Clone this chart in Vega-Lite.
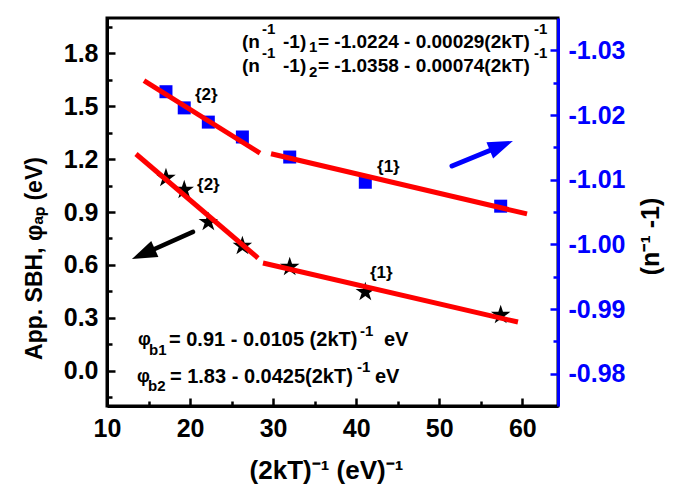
{
  "$schema": "https://vega.github.io/schema/vega-lite/v6.json",
  "width": 451,
  "height": 388,
  "autosize": {"type": "none"},
  "padding": {"left": 107, "top": 18, "right": 127, "bottom": 80},
  "background": "white",
  "config": {
    "view": {"stroke": "black", "strokeWidth": 3},
    "axis": {"grid": false}
  },
  "datasets": {
    "stars": [
      {"x": 17.1, "y": 1.093}, {"x": 19.3, "y": 1.025}, {"x": 22.2, "y": 0.843},
      {"x": 26.3, "y": 0.707}, {"x": 32.0, "y": 0.588}, {"x": 41.1, "y": 0.446},
      {"x": 57.4, "y": 0.316}
    ],
    "squares": [
      {"x": 17.1, "v": -1.0236}, {"x": 19.3, "v": -1.0211}, {"x": 22.2, "v": -1.0189},
      {"x": 26.3, "v": -1.0166}, {"x": 32.0, "v": -1.0135}, {"x": 41.1, "v": -1.0096},
      {"x": 57.4, "v": -1.0059}
    ],
    "starfits": [
      {"seg": "b2", "x": 13.49, "y": 1.229}, {"seg": "b2", "x": 28.18, "y": 0.639},
      {"seg": "b1", "x": 28.78, "y": 0.611}, {"seg": "b1", "x": 59.48, "y": 0.276}
    ],
    "sqfits": [
      {"seg": "n2", "x": 14.45, "v": -1.0253}, {"seg": "n2", "x": 28.42, "v": -1.0141},
      {"seg": "n1", "x": 29.75, "v": -1.0140}, {"seg": "n1", "x": 60.57, "v": -1.0047}
    ],
    "arrows": [
      {"id": "black", "x": 20.35, "y": 0.787, "x2": 14.38, "y2": 0.662},
      {"id": "blue", "x": 51.54, "y": 1.161, "x2": 57.48, "y2": 1.276}
    ],
    "texts": [
      {"role": "main", "x": 26.25, "y": 1.864, "t": "(n"},
      {"role": "sup", "x": 28.66, "y": 1.938, "t": "-1"},
      {"role": "main", "x": 31.19, "y": 1.864, "t": "-1)"},
      {"role": "sub", "x": 34.32, "y": 1.836, "t": "1"},
      {"role": "main", "x": 35.40, "y": 1.864, "t": "= -1.0224 - 0.00029(2kT)"},
      {"role": "sup", "x": 61.41, "y": 1.938, "t": "-1"},
      {"role": "main", "x": 26.25, "y": 1.728, "t": "(n"},
      {"role": "sup", "x": 28.66, "y": 1.802, "t": "-1"},
      {"role": "main", "x": 31.19, "y": 1.728, "t": "-1)"},
      {"role": "sub", "x": 34.32, "y": 1.694, "t": "2"},
      {"role": "main", "x": 35.40, "y": 1.728, "t": "= -1.0358 - 0.00074(2kT)"},
      {"role": "sup", "x": 61.41, "y": 1.802, "t": "-1"},
      {"role": "phi", "x": 13.73, "y": 0.174, "t": "φ"},
      {"role": "sub", "x": 15.06, "y": 0.118, "t": "b1"},
      {"role": "bmain", "x": 17.46, "y": 0.174, "t": "= 0.91 - 0.0105 (2kT)"},
      {"role": "sup", "x": 40.46, "y": 0.225, "t": "-1"},
      {"role": "bmain", "x": 43.35, "y": 0.174, "t": "eV"},
      {"role": "phi", "x": 13.61, "y": -0.036, "t": "φ"},
      {"role": "sub", "x": 14.94, "y": -0.087, "t": "b2"},
      {"role": "bmain", "x": 17.58, "y": -0.036, "t": "= 1.83 - 0.0425(2kT)"},
      {"role": "sup", "x": 40.10, "y": 0.021, "t": "-1"},
      {"role": "bmain", "x": 42.26, "y": -0.036, "t": "eV"},
      {"role": "tag", "x": 20.59, "y": 1.563, "t": "{2}"},
      {"role": "tag", "x": 42.51, "y": 1.155, "t": "{1}"},
      {"role": "tag", "x": 20.84, "y": 1.053, "t": "{2}"},
      {"role": "tag", "x": 41.66, "y": 0.554, "t": "{1}"}
    ]
  },
  "layer": [
    {
      "data": {"name": "stars"},
      "mark": {"type": "point", "shape": "M0,-1L0.2245,-0.309L0.951,-0.309L0.363,0.118L0.588,0.809L0,0.382L-0.588,0.809L-0.363,0.118L-0.951,-0.309L-0.2245,-0.309Z", "filled": true, "size": 420, "color": "black", "opacity": 1},
      "encoding": {
        "x": {
          "field": "x", "type": "quantitative",
          "scale": {"domain": [10, 64.3], "nice": false, "zero": false},
          "axis": {
            "orient": "bottom",
            "values": [10, 15, 20, 25, 30, 35, 40, 45, 50, 55, 60],
            "labelExpr": "datum.value % 10 === 0 ? datum.label : ''",
            "title": "(2kT)⁻¹ (eV)⁻¹",
            "grid": false,
            "tickSize": {"condition": {"test": "datum.value % 10 === 0", "value": -8}, "value": -5},
            "tickWidth": 2.5, "tickColor": "black",
            "domainColor": "black", "domainWidth": 3,
            "labelFont": "Liberation Sans", "labelFontSize": 25, "labelFontWeight": "bold", "labelColor": "black",
            "labelPadding": 18, "labelFlush": false, "labelOverlap": false,
            "titleFont": "Liberation Sans", "titleFontSize": 26, "titleFontWeight": "bold", "titleColor": "black",
            "titleX": 219, "titleY": 64, "titleBaseline": "middle", "titleAlign": "center"
          }
        },
        "y": {
          "field": "y", "type": "quantitative",
          "scale": {"domain": [-0.2, 2.0], "nice": false, "zero": false},
          "axis": {
            "orient": "left",
            "values": [-0.15, 0, 0.15, 0.3, 0.45, 0.6, 0.75, 0.9, 1.05, 1.2, 1.35, 1.5, 1.65, 1.8, 1.95],
            "labelExpr": "abs(round(datum.value * 100)) % 30 === 0 ? format(datum.value, '.1f') : ''",
            "title": "App. SBH, φₐₚ (eV)",
            "grid": false,
            "tickSize": {"condition": {"test": "abs(round(datum.value * 100)) % 30 === 0", "value": -8}, "value": -5},
            "tickWidth": 2.5, "tickColor": "black",
            "domainColor": "black", "domainWidth": 3,
            "labelFont": "Liberation Sans", "labelFontSize": 25, "labelFontWeight": "bold", "labelColor": "black",
            "labelPadding": 17, "labelFlush": false, "labelOverlap": false,
            "titleFont": "Liberation Sans", "titleFontSize": 23, "titleFontWeight": "bold", "titleColor": "black",
            "titleX": -73, "titleY": 240, "titleAngle": 270, "titleBaseline": "middle", "titleAlign": "center"
          }
        }
      }
    },
    {
      "data": {"name": "starfits"},
      "mark": {"type": "line", "color": "#FF0000", "strokeWidth": 5, "strokeCap": "butt"},
      "encoding": {
        "x": {"field": "x", "type": "quantitative", "scale": {"domain": [10, 64.3], "nice": false, "zero": false}},
        "y": {"field": "y", "type": "quantitative", "scale": {"domain": [-0.2, 2.0], "nice": false, "zero": false}, "axis": null},
        "detail": {"field": "seg"}
      }
    },
    {
      "data": {"name": "arrows"},
      "transform": [{"filter": "datum.id === 'black'"}],
      "mark": {"type": "rule", "color": "black", "strokeWidth": 4.5, "strokeCap": "round"},
      "encoding": {
        "x": {"field": "x", "type": "quantitative", "scale": {"domain": [10, 64.3], "nice": false, "zero": false}},
        "y": {"field": "y", "type": "quantitative", "scale": {"domain": [-0.2, 2.0], "nice": false, "zero": false}, "axis": null},
        "x2": {"field": "x2"},
        "y2": {"field": "y2"}
      }
    },
    {
      "data": {"name": "arrows"},
      "transform": [{"filter": "datum.id === 'black'"}],
      "mark": {"type": "point", "shape": "M0,-1L0.7,1L-0.7,1Z", "filled": true, "size": 625, "angle": 246, "color": "black", "opacity": 1},
      "encoding": {
        "x": {"field": "x2", "type": "quantitative", "scale": {"domain": [10, 64.3], "nice": false, "zero": false}},
        "y": {"field": "y2", "type": "quantitative", "scale": {"domain": [-0.2, 2.0], "nice": false, "zero": false}, "axis": null}
      }
    },
    {
      "data": {"name": "arrows"},
      "transform": [{"filter": "datum.id === 'blue'"}],
      "mark": {"type": "rule", "color": "#0000FF", "strokeWidth": 5, "strokeCap": "round"},
      "encoding": {
        "x": {"field": "x", "type": "quantitative", "scale": {"domain": [10, 64.3], "nice": false, "zero": false}},
        "y": {"field": "y", "type": "quantitative", "scale": {"domain": [-0.2, 2.0], "nice": false, "zero": false}, "axis": null},
        "x2": {"field": "x2"},
        "y2": {"field": "y2"}
      }
    },
    {
      "data": {"name": "arrows"},
      "transform": [{"filter": "datum.id === 'blue'"}],
      "mark": {"type": "point", "shape": "M0,-1L0.7,1L-0.7,1Z", "filled": true, "size": 625, "angle": 67.7, "color": "#0000FF", "opacity": 1},
      "encoding": {
        "x": {"field": "x2", "type": "quantitative", "scale": {"domain": [10, 64.3], "nice": false, "zero": false}},
        "y": {"field": "y2", "type": "quantitative", "scale": {"domain": [-0.2, 2.0], "nice": false, "zero": false}, "axis": null}
      }
    },
    {
      "data": {"name": "texts"},
      "transform": [{"filter": "datum.role === 'main'"}],
      "mark": {"type": "text", "align": "left", "baseline": "middle", "font": "Liberation Sans", "fontWeight": "bold", "fontSize": 19, "color": "black"},
      "encoding": {
        "x": {"field": "x", "type": "quantitative", "scale": {"domain": [10, 64.3], "nice": false, "zero": false}},
        "y": {"field": "y", "type": "quantitative", "scale": {"domain": [-0.2, 2.0], "nice": false, "zero": false}, "axis": null},
        "text": {"field": "t"}
      }
    },
    {
      "data": {"name": "texts"},
      "transform": [{"filter": "datum.role === 'bmain'"}],
      "mark": {"type": "text", "align": "left", "baseline": "middle", "font": "Liberation Sans", "fontWeight": "bold", "fontSize": 20, "color": "black"},
      "encoding": {
        "x": {"field": "x", "type": "quantitative", "scale": {"domain": [10, 64.3], "nice": false, "zero": false}},
        "y": {"field": "y", "type": "quantitative", "scale": {"domain": [-0.2, 2.0], "nice": false, "zero": false}, "axis": null},
        "text": {"field": "t"}
      }
    },
    {
      "data": {"name": "texts"},
      "transform": [{"filter": "datum.role === 'phi'"}],
      "mark": {"type": "text", "align": "left", "baseline": "middle", "font": "Liberation Sans", "fontWeight": "bold", "fontSize": 18, "color": "black"},
      "encoding": {
        "x": {"field": "x", "type": "quantitative", "scale": {"domain": [10, 64.3], "nice": false, "zero": false}},
        "y": {"field": "y", "type": "quantitative", "scale": {"domain": [-0.2, 2.0], "nice": false, "zero": false}, "axis": null},
        "text": {"field": "t"}
      }
    },
    {
      "data": {"name": "texts"},
      "transform": [{"filter": "datum.role === 'sub'"}],
      "mark": {"type": "text", "align": "left", "baseline": "middle", "font": "Liberation Sans", "fontWeight": "bold", "fontSize": 15, "color": "black"},
      "encoding": {
        "x": {"field": "x", "type": "quantitative", "scale": {"domain": [10, 64.3], "nice": false, "zero": false}},
        "y": {"field": "y", "type": "quantitative", "scale": {"domain": [-0.2, 2.0], "nice": false, "zero": false}, "axis": null},
        "text": {"field": "t"}
      }
    },
    {
      "data": {"name": "texts"},
      "transform": [{"filter": "datum.role === 'sup'"}],
      "mark": {"type": "text", "align": "left", "baseline": "middle", "font": "Liberation Sans", "fontWeight": "bold", "fontSize": 15, "color": "black"},
      "encoding": {
        "x": {"field": "x", "type": "quantitative", "scale": {"domain": [10, 64.3], "nice": false, "zero": false}},
        "y": {"field": "y", "type": "quantitative", "scale": {"domain": [-0.2, 2.0], "nice": false, "zero": false}, "axis": null},
        "text": {"field": "t"}
      }
    },
    {
      "data": {"name": "texts"},
      "transform": [{"filter": "datum.role === 'tag'"}],
      "mark": {"type": "text", "align": "left", "baseline": "middle", "font": "Liberation Sans", "fontWeight": "bold", "fontSize": 17, "color": "black"},
      "encoding": {
        "x": {"field": "x", "type": "quantitative", "scale": {"domain": [10, 64.3], "nice": false, "zero": false}},
        "y": {"field": "y", "type": "quantitative", "scale": {"domain": [-0.2, 2.0], "nice": false, "zero": false}, "axis": null},
        "text": {"field": "t"}
      }
    },
    {
      "data": {"name": "squares"},
      "mark": {"type": "point", "shape": "square", "filled": true, "size": 169, "color": "#0000FF", "opacity": 1},
      "encoding": {
        "x": {"field": "x", "type": "quantitative", "scale": {"domain": [10, 64.3], "nice": false, "zero": false}},
        "y": {
          "field": "v", "type": "quantitative",
          "scale": {"domain": [-1.035, -0.975], "reverse": true, "nice": false, "zero": false},
          "axis": {
            "orient": "right",
            "values": [-0.98, -0.985, -0.99, -0.995, -1.0, -1.005, -1.01, -1.015, -1.02, -1.025, -1.03],
            "labelExpr": "abs(round(datum.value * 200)) % 2 === 0 ? replace(format(datum.value, '.2f'), '−', '-') : ''",
            "title": "(n⁻¹ -1)",
            "grid": false,
            "tickSize": {"condition": {"test": "abs(round(datum.value * 200)) % 2 === 0", "value": -8}, "value": -5},
            "tickWidth": 2.5, "tickColor": "#0000FF",
            "domainColor": "#0000FF", "domainWidth": 3,
            "labelFont": "Liberation Sans", "labelFontSize": 25, "labelFontWeight": "bold", "labelColor": "#0000FF",
            "labelPadding": 18, "labelFlush": false, "labelOverlap": false,
            "titleFont": "Liberation Sans", "titleFontSize": 25, "titleFontWeight": "bold", "titleColor": "black",
            "titleX": 92, "titleY": 218, "titleAngle": 270, "titleBaseline": "middle", "titleAlign": "center"
          }
        }
      }
    },
    {
      "data": {"name": "sqfits"},
      "mark": {"type": "line", "color": "#FF0000", "strokeWidth": 5, "strokeCap": "butt"},
      "encoding": {
        "x": {"field": "x", "type": "quantitative", "scale": {"domain": [10, 64.3], "nice": false, "zero": false}},
        "y": {"field": "v", "type": "quantitative", "scale": {"domain": [-1.035, -0.975], "reverse": true, "nice": false, "zero": false}, "axis": null},
        "detail": {"field": "seg"}
      }
    }
  ],
  "resolve": {"scale": {"y": "independent"}}
}
